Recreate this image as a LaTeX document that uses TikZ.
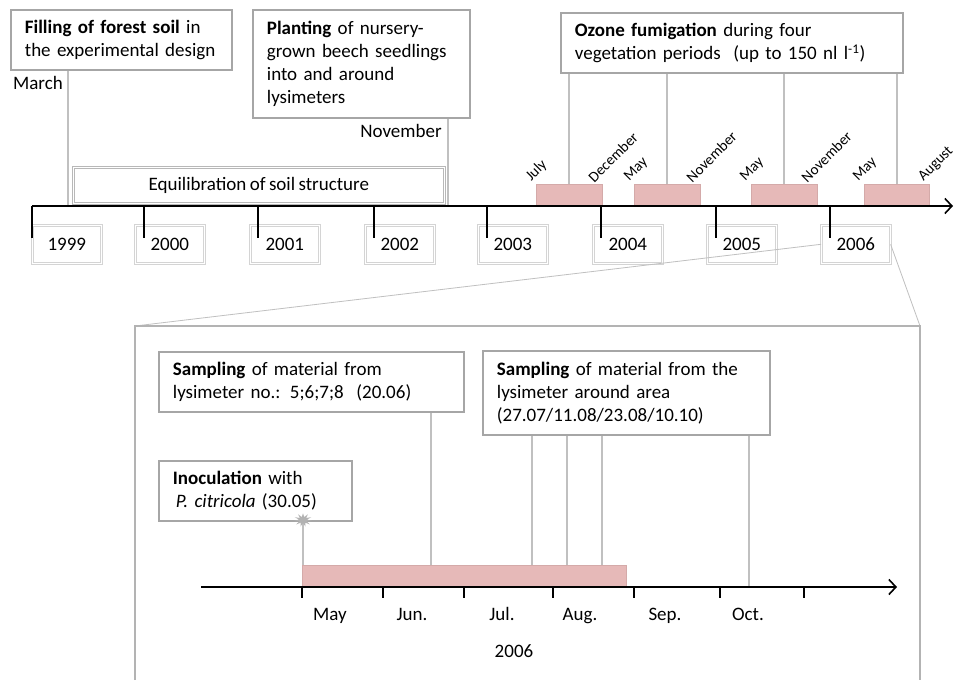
\documentclass[tikz,border=0pt]{standalone}
\usepackage{fontspec}
\setmainfont{Carlito}[WordSpace=0.8]
\usetikzlibrary{arrows.meta,positioning,shapes.geometric}
\definecolor{boxgray}{RGB}{166,166,166}
\definecolor{linegray}{RGB}{192,192,192}
\definecolor{yeargray}{RGB}{212,212,212}
\definecolor{fumipink}{RGB}{230,185,184}
\tikzset{%
  event/.style={draw=boxgray,line width=1.8pt,fill=white,align=left,anchor=north west,inner xsep=14pt,inner ysep=0pt},
  leader/.style={draw=linegray,line width=1.8pt},
  axis/.style={-{Straight Barb[length=7pt,width=15pt]},line width=1.6pt}%
}

\begin{document}
\begin{tikzpicture}[
    x=1pt, y=-1pt,
    font=\fontsize{19}{23}\selectfont,
    yearbox/.style={
        draw=yeargray,
        double,
        double distance=1.4pt,
        line width=0.6pt,
        minimum width=69pt,
        minimum height=38pt,
        anchor=north west,
        inner sep=0pt
    },
    period/.style={
        fill=fumipink,
        draw=fumipink!92!black,
        line width=0.5pt,
        anchor=south west,
        minimum height=22pt,
        inner sep=0pt
    },
    month/.style={
        font=\fontsize{15}{18}\selectfont,
        rotate=45,
        anchor=south west,
        inner sep=0pt
    },
    mlabel/.style={anchor=base, inner sep=0pt},
    tick/.style={line width=1.6pt},
    zoomline/.style={draw=linegray,line width=0.8pt}
]
\useasboundingbox[fill=white] (0,0) rectangle (958,680);

% Upper time line 1999--2006
\coordinate (t0) at (32,206);
\coordinate (tend) at (953,206);

\node[event, text width=193pt, minimum height=60pt] (fill) at (10,9)
{\textbf{Filling of forest soil} in\\the experimental design};

\node[event, text width=189pt, minimum height=108pt] (plant) at (252,9)
{\textbf{Planting} of nursery-\\grown beech seedlings\\into and around\\lysimeters};

\node[event, text width=314pt, minimum height=60pt] (ozone) at (560,12)
{\textbf{Ozone fumigation} during four\\vegetation periods~ (up to 150 nl l\textsuperscript{-1})};

\node[draw=boxgray!80, double, double distance=1.2pt, line width=0.7pt,
      anchor=north west, minimum width=371pt, minimum height=36pt] (equil) at (73,167)
{Equilibration of soil structure};

\coordinate (march) at (68,206);
\coordinate (nov) at (448,206);
\node (lmarch) at (38,83) {March};
\node (lnov) at (401,131) {November};
\draw[leader] (fill.south -| march) -- (march);
\draw[leader] (plant.south -| nov) -- (nov);

% fumigation periods
\node[period, minimum width=66pt] (o3a) at (536,206) {};
\node[period, minimum width=66pt] (o3b) at (634,206) {};
\node[period, minimum width=66pt] (o3c) at (751,206) {};
\node[period, minimum width=65pt] (o3d) at (864,206) {};
\foreach \b in {o3a,o3b,o3c,o3d}
  \draw[leader] (ozone.south -| \b.north) -- (\b.north);

\node[month] at ([xshift=-3pt]o3a.north west) {July};
\node[month] at ([xshift=-8pt]o3a.north east) {December};
\node[month] at ([xshift=-3pt]o3b.north west) {May};
\node[month] at ([xshift=-8pt]o3b.north east) {November};
\node[month] at ([xshift=-4pt]o3c.north west) {May};
\node[month] at ([xshift=-10pt]o3c.north east) {November};
\node[month] at ([xshift=-4pt]o3d.north west) {May};
\node[month] at ([xshift=-4pt]o3d.north east) {August};

\draw[axis] (t0) -- (tend);

% years
\foreach \yr/\bx/\tx in {1999/32/32,2000/135/144,2001/250/258,2002/365/374,
                         2003/478/487,2004/593/601,2005/707/716,2006/821/830}{
  \node[yearbox] (y\yr) at (\bx,225) {\yr};
  \draw[tick] (\tx,206) -- (\tx,238);
}

% zoom into 2006
\coordinate (pnw) at (135,326);
\coordinate (pne) at (920,326);
\coordinate (psw) at (135,680);
\coordinate (pse) at (920,680);
\draw[zoomline] (y2006.west) -- (pnw);
\draw[zoomline] (y2006.east) -- (pne);
\draw[leader, draw=boxgray!85, line width=1.5pt] (psw) -- (pnw) -- (pne) -- (pse);

\node[event, text width=277pt, minimum height=60pt] (samp1) at (158,351)
{\textbf{Sampling} of material from\\lysimeter no.: 5;6;7;8~ (20.06)};

\node[event, text width=259pt, minimum height=84pt] (samp2) at (482,350)
{\textbf{Sampling} of material from the\\lysimeter around area\\(27.07/11.08/23.08/10.10)};

\node[event, text width=165pt, minimum height=60pt] (inoc) at (158,460)
{\textbf{Inoculation} with\\\hspace{3pt}\textit{P. citricola} (30.05)};

% lower time line 2006
\coordinate (m0) at (201,587);
\coordinate (mend) at (897,587);
\node[period, minimum width=324pt] (veg) at (302,587) {};

\coordinate (inocpt) at (303,520);
\draw[leader] (inocpt) -- (inocpt |- veg.north);
\node[star, star points=11, star point ratio=2.2, minimum size=18pt, inner sep=0pt,
      fill=black!30, draw=none, yscale=0.75] (star) at (inocpt) {};

\coordinate (s1) at (431,565);
\coordinate (s2) at (532,565);
\coordinate (s3) at (567,565);
\coordinate (s4) at (602,565);
\coordinate (s5) at (749,587);
\draw[leader] (samp1.south -| s1) -- (s1);
\foreach \s in {s2,s3,s4,s5}
  \draw[leader] (samp2.south -| \s) -- (\s);

\draw[axis] (m0) -- (mend);
\foreach \tx in {302,383,464,553,634,720,804}
  \draw[tick] (\tx,587) -- (\tx,598);

\node[mlabel] (may) at (330,620) {May};
\node[mlabel] (jun) at (412,620) {Jun.};
\node[mlabel] (jul) at (502,620) {Jul.};
\node[mlabel] (aug) at (580,620) {Aug.};
\node[mlabel] (sep) at (665,620) {Sep.};
\node[mlabel] (oct) at (748,620) {Oct.};
\node[mlabel] (yr) at (514,657) {2006};

\end{tikzpicture}
\end{document}
